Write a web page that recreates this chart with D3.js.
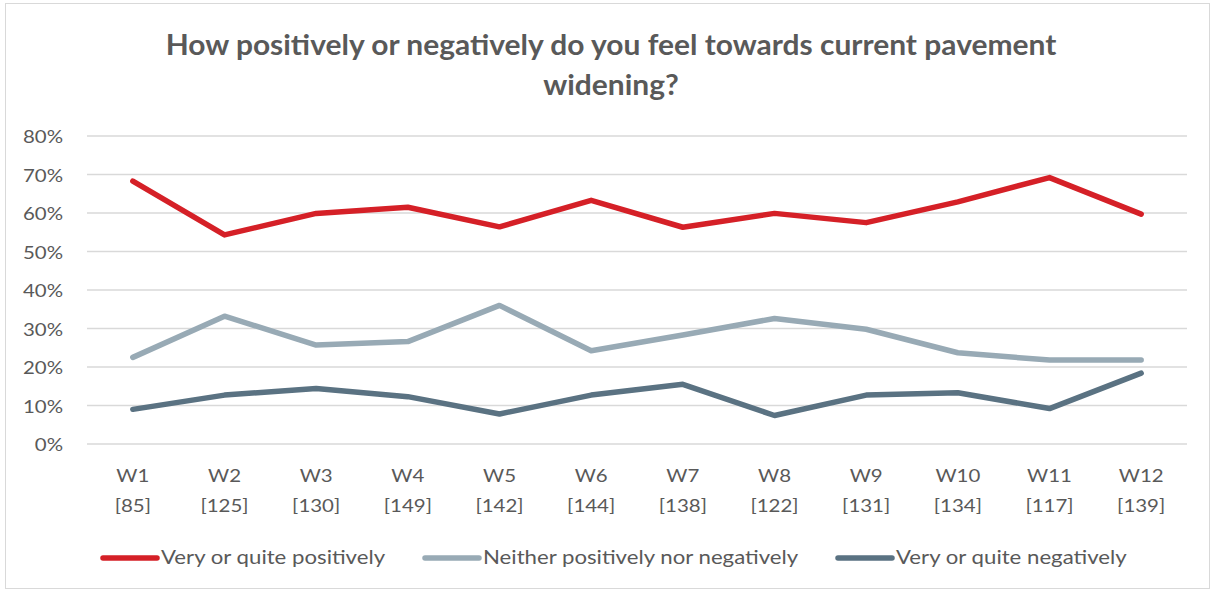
<!DOCTYPE html>
<html>
<head>
<meta charset="utf-8">
<script src="https://cdn.jsdelivr.net/npm/d3@7/dist/d3.min.js"></script>
<style>
  html, body { margin: 0; padding: 0; background: #fff; }
  svg { display: block; font-family: Lato, "Open Sans", sans-serif; }
</style>
</head>
<body>
<svg id="chart" width="1213" height="591"></svg>
<script>
// Survey waves and sample sizes
const waves = ["W1","W2","W3","W4","W5","W6","W7","W8","W9","W10","W11","W12"];
const sampleSizes = [85,125,130,149,142,144,138,122,131,134,117,139];

// Share of respondents per wave (%)
const positive = [68.3,54.3,59.9,61.5,56.4,63.3,56.3,59.9,57.5,62.9,69.2,59.7];
const neutral  = [22.5,33.2,25.7,26.6,36.0,24.2,28.3,32.6,29.8,23.7,21.8,21.8];
const negative = [9.0,12.7,14.4,12.3,7.8,12.7,15.5,7.4,12.7,13.3,9.2,18.4];

const seriesNames = ["Very or quite positively","Neither positively nor negatively","Very or quite negatively"];
const yTicks = [0,10,20,30,40,50,60,70,80];

const colors = ["#D52027","#98AAB5","#5A7282"];
const textColor = "#595959";

const svg = d3.select("#chart");
const W = 1213, H = 591;

// outer chart frame
svg.append("rect").attr("x",5.5).attr("y",3.5).attr("width",W-9).attr("height",H-6)
  .attr("fill","#fff").attr("stroke","#D9D9D9").attr("stroke-width",1);

// title (slightly widened lettering)
const titleLines = ["How positively or negatively do you feel towards current pavement","widening?"];
svg.append("g").selectAll("text").data(titleLines).join("text")
  .attr("transform",(d,i)=>`translate(611,${55 + i*40}) scale(1.07,1)`)
  .attr("text-anchor","middle")
  .attr("fill",textColor).attr("font-weight","bold").attr("font-size",28)
  .text(d=>d);

const plot = {left: 87, right: 1187, top: 136, bottom: 444};

const x = d3.scaleBand().domain(waves).range([plot.left, plot.right]);
const y = d3.scaleLinear().domain([0,80]).range([plot.bottom, plot.top]);

// gridlines
svg.append("g").selectAll("line").data(yTicks).join("line")
  .attr("x1",plot.left).attr("x2",plot.right)
  .attr("y1",d=>y(d)).attr("y2",d=>y(d))
  .attr("stroke","#D9D9D9").attr("stroke-width",1.5);

// y axis labels
const yAxis = svg.append("g").attr("transform","translate(63,0)")
  .call(d3.axisLeft(y).tickValues(yTicks).tickFormat(d=>d+"%").tickSize(0).tickPadding(0));
yAxis.select(".domain").remove();
yAxis.selectAll("text")
  .attr("x",0).attr("dy","0.4em")
  .attr("transform","scale(1.2,1)")
  .attr("fill",textColor).attr("font-size",17)
  .attr("font-family","Lato, 'Open Sans', sans-serif");

// x axis labels (two lines: wave + sample size)
const xAxis = svg.append("g").attr("transform",`translate(0,${plot.bottom})`)
  .call(d3.axisBottom(x).tickSize(0).tickFormat(""));
xAxis.select(".domain").remove();
xAxis.selectAll(".tick text").remove();
xAxis.selectAll(".tick").each(function(d,i){
  const t = d3.select(this).append("text").attr("text-anchor","middle")
    .attr("transform","scale(1.24,1)")
    .attr("fill",textColor).attr("font-size",16.5)
    .attr("font-family","Lato, 'Open Sans', sans-serif");
  t.append("tspan").attr("x",0).attr("y",38).text(d);
  t.append("tspan").attr("x",0).attr("y",68).text("[" + sampleSizes[i] + "]");
});

// lines
const allSeries = [positive, neutral, negative];
const line = d3.line()
  .x((d,i)=>x(waves[i]) + x.bandwidth()/2)
  .y(d=>y(d));

svg.append("g").selectAll("path").data(allSeries).join("path")
  .attr("d",d=>line(d))
  .attr("fill","none")
  .attr("stroke",(d,i)=>colors[i])
  .attr("stroke-width",5.5)
  .attr("stroke-linejoin","round")
  .attr("stroke-linecap","round");

// legend
const legendItems = [
  {x:103, name: seriesNames[0], color: colors[0]},
  {x:425, name: seriesNames[1], color: colors[1]},
  {x:838, name: seriesNames[2], color: colors[2]}
];
const lg = svg.append("g").selectAll("g").data(legendItems).join("g")
  .attr("transform",d=>`translate(${d.x},558)`);
lg.append("line").attr("x1",0).attr("x2",54).attr("y1",0).attr("y2",0)
  .attr("stroke",d=>d.color).attr("stroke-width",5.5).attr("stroke-linecap","round");
lg.append("text")
  .attr("transform","translate(58,6) scale(1.2,1)")
  .attr("fill",textColor).attr("font-size",18.5)
  .text(d=>d.name);
</script>
</body>
</html>
